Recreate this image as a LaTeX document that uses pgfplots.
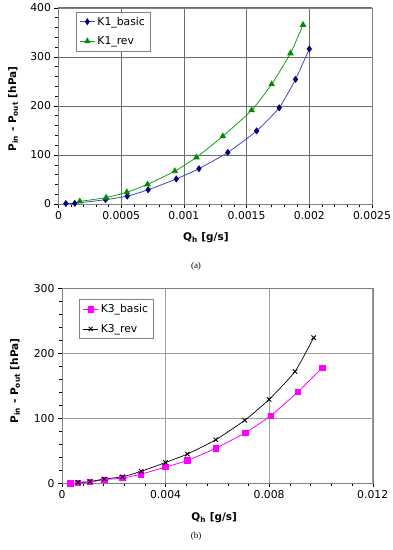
\documentclass[border=0pt]{standalone}
\usepackage{fontspec}
\setmainfont{DejaVu Sans}
\newfontfamily\capfont{Liberation Serif}
\usepackage{pgfplots}
\pgfplotsset{compat=1.18}
\definecolor{kbline}{RGB}{70,70,190}
\definecolor{kbmark}{RGB}{0,0,130}
\definecolor{krline}{RGB}{20,160,20}
\definecolor{krmark}{RGB}{0,140,0}
\definecolor{mag}{RGB}{255,0,255}
\pgfplotsset{
  common/.style={
    scale only axis,
    scaled x ticks=false, scaled y ticks=false,
    tick align=outside,
    xtick pos=bottom, ytick pos=left,
    major tick length=4pt, minor tick length=3pt,
    minor x tick num=4, minor y tick num=4,
    grid=major,
    axis line style={gray},
    tick style={black, line width=0.4pt},
    every tick label/.append style={font=\fontsize{10.8}{12}\selectfont},
    /pgf/number format/assume math mode=true,
    xlabel style={font=\fontsize{10.5}{12}\selectfont\bfseries, anchor=center},
    ylabel style={font=\fontsize{10.5}{12}\selectfont\bfseries, anchor=center},
    legend cell align=left,
    legend style={font=\fontsize{10.8}{12}\selectfont, draw=gray, fill=white, inner xsep=3pt, inner ysep=3pt, row sep=6pt},
    legend image post style={xscale=0.9},
  }
}
\begin{document}
\begin{tikzpicture}
\path[use as bounding box] (0,0) rectangle (392pt,-550pt);
\begin{axis}[common,
  at={(58.5pt,-204pt)}, anchor=south west,
  width=313.5pt, height=196.3pt,
  xmin=0, xmax=0.0025, ymin=0, ymax=400,
  xtick={0,0.0005,0.001,0.0015,0.002,0.0025},
  xticklabels={0,0.0005,0.001,0.0015,0.002,0.0025},
  ytick={0,100,200,300,400},
  major grid style={gray!85!black, line width=0.5pt},
  xlabel={Q\textsubscript{h} [g/s]},
  ylabel={P\textsubscript{in} - P\textsubscript{out} [hPa]},
  xlabel style={at={(axis description cs:0.47,-0.173)}},
  ylabel style={at={(axis description cs:-0.145,0.484)}},
  legend style={at={(rel axis cs:0.056,0.98)}, anchor=north west},
]
\addplot[kbline, line width=0.8pt, smooth, tension=0.3, mark=diamond*, mark size=2.9pt, mark options={kbmark, fill=kbmark}]
coordinates {(0.0000585,1) (0.00013,1.4) (0.000375,8.8) (0.000548,16) (0.000715,29) (0.000939,51) (0.00112,72) (0.00135,105) (0.00158,149) (0.00176,196) (0.00189,254) (0.0020,316)};
\addlegendentry{K1\_basic}
\addplot[krline, line width=0.8pt, smooth, tension=0.3, mark=triangle*, mark size=3.1pt, mark options={krmark, fill=krmark}]
coordinates {(0.00017,5.4) (0.00038,13) (0.000545,24) (0.00071,40) (0.000928,67) (0.0011,95) (0.00131,138) (0.00154,191) (0.0017,244) (0.00185,307) (0.00195,365)};
\addlegendentry{K1\_rev}
\end{axis}
\node[font=\capfont\fontsize{9}{10}\selectfont] at (196pt,-266pt) {(a)};
\begin{axis}[common,
  at={(62pt,-483.3pt)}, anchor=south west,
  width=310.7pt, height=195pt,
  xmin=0, xmax=0.012, ymin=0, ymax=300,
  xtick={0,0.004,0.008,0.012},
  xticklabels={0,0.004,0.008,0.012},
  ytick={0,100,200,300},
  major grid style={gray!75, line width=0.7pt},
  xlabel={Q\textsubscript{h} [g/s]},
  ylabel={P\textsubscript{in} - P\textsubscript{out} [hPa]},
  xlabel style={at={(axis description cs:0.49,-0.178)}},
  ylabel style={at={(axis description cs:-0.151,0.525)}},
  legend style={at={(rel axis cs:0.056,0.944)}, anchor=north west},
]
\addplot[mag, line width=0.8pt, smooth, tension=0.3, mark=square*, mark size=2.7pt, mark options={mag, fill=mag}]
coordinates {(0.00033,0) (0.00062,1) (0.00108,2) (0.00163,5.6) (0.00234,8) (0.00305,14) (0.0040,25) (0.00484,35) (0.00594,54) (0.00709,78) (0.00806,104) (0.00912,141) (0.01006,178)};
\addlegendentry{K3\_basic}
\addplot[black, line width=0.7pt, smooth, tension=0.3, mark=x, mark size=3.1pt, mark options={black, line width=0.9pt}]
coordinates {(0.00062,1.5) (0.00108,2.6) (0.00163,6.7) (0.00234,10) (0.00306,18.5) (0.004,32) (0.00484,45) (0.00594,67) (0.00706,97) (0.008,129) (0.009,172) (0.00972,224)};
\addlegendentry{K3\_rev}
\end{axis}
\node[font=\capfont\fontsize{9}{10}\selectfont] at (196pt,-536pt) {(b)};
\end{tikzpicture}
\end{document}
